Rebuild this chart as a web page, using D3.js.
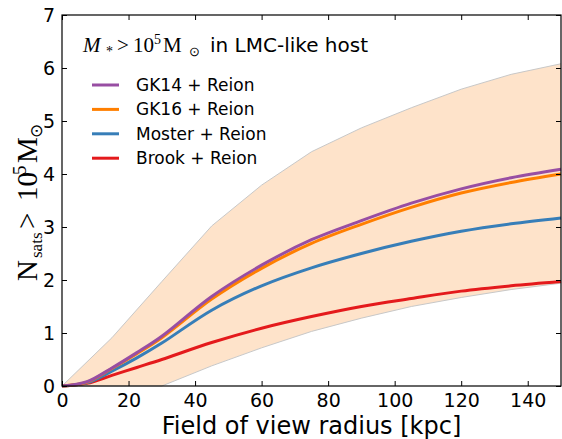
<!DOCTYPE html>
<html>
<head>
<meta charset="utf-8">
<script src="https://cdn.jsdelivr.net/npm/d3@7"></script>
<style>
  body { margin: 0; background: #fff; }
  svg { display: block; }
  .tick text { font-family: "DejaVu Sans", sans-serif; font-size: 19px; fill: #000; }
</style>
</head>
<body>
<svg id="chart" width="562" height="439"></svg>
<script>
// field of view radius samples [kpc]
var radius = [0, 7.5, 15, 22.5, 30, 45, 60, 75, 90, 105, 120, 135, 150];

// N_sats for each model
var gk14 =   [0, 0.08, 0.34, 0.63, 0.94, 1.69, 2.28, 2.76, 3.12, 3.45, 3.72, 3.93, 4.09];
var gk16 =   [0, 0.07, 0.33, 0.61, 0.91, 1.64, 2.22, 2.69, 3.05, 3.37, 3.64, 3.84, 4.00];
var moster = [0, 0.06, 0.28, 0.53, 0.81, 1.43, 1.89, 2.23, 2.50, 2.73, 2.92, 3.06, 3.17];
var brook =  [0, 0.05, 0.20, 0.35, 0.50, 0.82, 1.09, 1.31, 1.50, 1.65, 1.79, 1.89, 1.97];

// scatter band (upper / lower)
var bandX =     [0, 15, 30, 45, 60, 75, 90, 105, 120, 135, 150];
var bandUpper = [0, 0.91, 1.97, 3.02, 3.79, 4.42, 4.87, 5.25, 5.60, 5.88, 6.08];
var bandLower = [0, 0, 0, 0.38, 0.72, 1.03, 1.28, 1.50, 1.67, 1.82, 1.94];

var xTicks = [0, 20, 40, 60, 80, 100, 120, 140];
var yTicks = [0, 1, 2, 3, 4, 5, 6, 7];

var seriesNames = ["GK14 + Reion", "GK16 + Reion", "Moster + Reion", "Brook + Reion"];
var seriesColors = ["#984ea3", "#ff7f00", "#377eb8", "#e41a1c"];
var seriesValues = [gk14, gk16, moster, brook];

var margin = { left: 62, right: 1, top: 15, bottom: 53 };
var width = 562 - margin.left - margin.right;
var height = 439 - margin.top - margin.bottom;

var svg = d3.select("#chart");
var g = svg.append("g")
	.attr("transform", "translate(" + margin.left + "," + margin.top + ")");

var x = d3.scaleLinear().domain([0, 150]).range([0, width]);
var y = d3.scaleLinear().domain([0, 7]).range([height, 0]);

// band
var bandData = bandX.map(function(d, i) { return { x: d, lo: bandLower[i], hi: bandUpper[i] }; });
g.append("path")
	.datum(bandData)
	.attr("fill", "#fee3ca")
	.attr("d", d3.area()
		.x(function(d) { return x(d.x); })
		.y0(function(d) { return y(d.lo); })
		.y1(function(d) { return y(d.hi); }));

["hi", "lo"].forEach(function(k) {
	g.append("path")
		.datum(bandData)
		.attr("fill", "none")
		.attr("stroke", "#c8c8c8")
		.attr("stroke-width", 1)
		.attr("d", d3.line()
			.x(function(d) { return x(d.x); })
			.y(function(d) { return y(d[k]); }));
});

// model lines, drawn bottom to top
var line = d3.line()
	.x(function(d) { return x(d[0]); })
	.y(function(d) { return y(d[1]); })
	.curve(d3.curveCatmullRom.alpha(0.5));

for (var s = seriesValues.length - 1; s >= 0; s--) {
	g.append("path")
		.datum(radius.map(function(r, i) { return [r, seriesValues[s][i]]; }))
		.attr("fill", "none")
		.attr("stroke", seriesColors[s])
		.attr("stroke-width", 3)
		.attr("d", line);
}

// axes with inward ticks on all sides
g.append("g")
	.attr("transform", "translate(0," + height + ")")
	.call(d3.axisBottom(x).tickValues(xTicks).tickSizeInner(-5).tickSizeOuter(0).tickPadding(8));
g.append("g")
	.call(d3.axisTop(x).tickValues(xTicks).tickSizeInner(-5).tickSizeOuter(0).tickFormat(""));
g.append("g")
	.call(d3.axisLeft(y).tickValues(yTicks).tickSizeInner(-5).tickSizeOuter(0).tickPadding(7)
		.tickFormat(d3.format("d")));
g.append("g")
	.attr("transform", "translate(" + width + ",0)")
	.call(d3.axisRight(y).tickValues(yTicks).tickSizeInner(-5).tickSizeOuter(0).tickFormat(""));

g.selectAll(".domain").remove();
g.selectAll(".tick line").attr("stroke", "#000").attr("stroke-width", 1);

g.append("rect")
	.attr("width", width)
	.attr("height", height)
	.attr("fill", "none")
	.attr("stroke", "#000")
	.attr("stroke-width", 1.2);

// x label
svg.append("text")
	.attr("x", margin.left + width / 2)
	.attr("y", 434)
	.attr("text-anchor", "middle")
	.style("font-family", "DejaVu Sans, sans-serif")
	.style("font-size", "24px")
	.text("Field of view radius [kpc]");

// y label (math), rotated: u = -screen y
var ylab = svg.append("text")
	.attr("transform", "translate(37,0) rotate(-90)")
	.style("font-family", "Liberation Serif, serif")
	.style("font-size", "29px");
ylab.append("tspan").attr("x", -281).attr("y", 0).text("N");
ylab.append("tspan").attr("x", -258).attr("y", 5).style("font-size", "17px").text("sats");
ylab.append("tspan").attr("x", -229).attr("y", 0).text(">");
ylab.append("tspan").attr("x", -201).attr("y", 0).text("10");
ylab.append("tspan").attr("x", -175).attr("y", -11).style("font-size", "19px").text("5");
ylab.append("tspan").attr("x", -163).attr("y", 0).text("M");
ylab.append("tspan").attr("x", -138).attr("y", 5).style("font-size", "17px").text("\u2299");

// legend title
var title = svg.append("text")
	.style("font-family", "Liberation Serif, serif")
	.style("font-size", "21px");
title.append("tspan").attr("x", 83).attr("y", 52).style("font-style", "italic").text("M");
title.append("tspan").attr("x", 106).attr("y", 56).style("font-size", "14px").text("*");
title.append("tspan").attr("x", 117).attr("y", 52).text(">");
title.append("tspan").attr("x", 133).attr("y", 52).text("10");
title.append("tspan").attr("x", 154).attr("y", 44).style("font-size", "14px").text("5");
title.append("tspan").attr("x", 163).attr("y", 52).text("M");
title.append("tspan").attr("x", 189).attr("y", 56).style("font-size", "13px").text("\u2299");
title.append("tspan").attr("x", 210).attr("y", 52)
	.style("font-family", "DejaVu Sans, sans-serif").style("font-size", "20px")
	.text("in LMC-like host");

// legend entries
var legend = svg.append("g").attr("class", "legenda");
for (var p = 0; p < seriesNames.length; p++) {
	var ly = 85 + p * 24.4;
	legend.append("line")
		.attr("x1", 92).attr("x2", 119)
		.attr("y1", ly).attr("y2", ly)
		.attr("stroke", seriesColors[p])
		.attr("stroke-width", 3);
	legend.append("text")
		.attr("x", 136).attr("y", ly + 6)
		.style("font-family", "DejaVu Sans, sans-serif")
		.style("font-size", "17px")
		.text(seriesNames[p]);
}
</script>
</body>
</html>
